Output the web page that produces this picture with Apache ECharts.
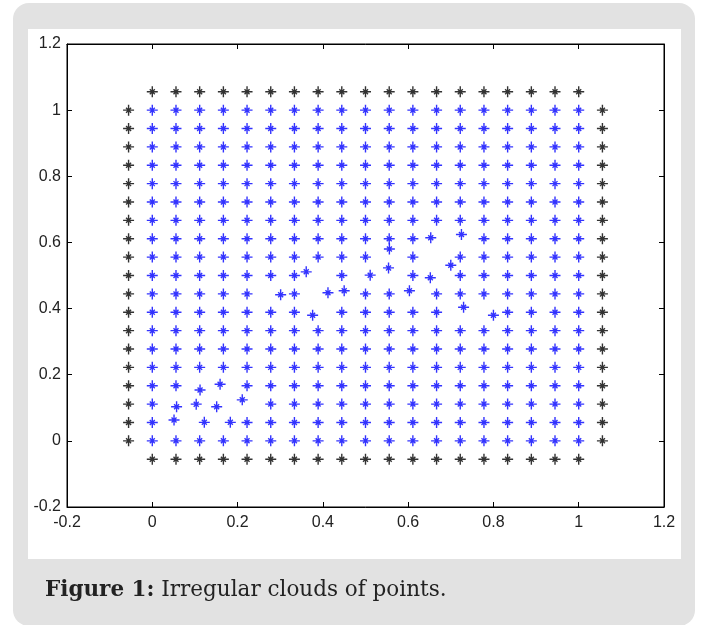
<!DOCTYPE html>
<html>
<head>
<meta charset="utf-8">
<script src="https://cdn.jsdelivr.net/npm/echarts@6/dist/echarts.min.js"></script>
<style>
html,body{margin:0;padding:0;background:#ffffff;}
#chart{width:701px;height:625px;}
</style>
</head>
<body>
<div id="chart"></div>
<script>
// ---- data ----
const gridValues = [0, 0.0556, 0.1111, 0.1667, 0.2222, 0.2778, 0.3333, 0.3889, 0.4444, 0.5,
  0.5556, 0.6111, 0.6667, 0.7222, 0.7778, 0.8333, 0.8889, 0.9444, 1];
const boundaryLow = -0.0556;
const boundaryHigh = 1.0556;
// displaced interior points: [column index, row index, x, y]
const movedPoints = [
  [7, 9, 0.361, 0.511], [9, 9, 0.511, 0.501], [10, 9, 0.554, 0.523], [10, 10, 0.556, 0.580],
  [5, 8, 0.301, 0.442], [7, 8, 0.412, 0.448], [8, 8, 0.450, 0.454], [7, 7, 0.376, 0.380],
  [12, 11, 0.653, 0.614], [13, 11, 0.725, 0.624], [12, 10, 0.700, 0.531], [12, 9, 0.652, 0.493],
  [11, 8, 0.603, 0.454], [13, 7, 0.730, 0.404], [14, 7, 0.800, 0.380],
  [2, 3, 0.112, 0.154], [3, 3, 0.159, 0.171],
  [1, 2, 0.057, 0.103], [2, 2, 0.103, 0.111], [3, 2, 0.151, 0.103], [4, 2, 0.211, 0.124],
  [1, 1, 0.051, 0.063], [2, 1, 0.122, 0.056], [3, 1, 0.183, 0.056]
];
const axisMin = -0.2, axisMax = 1.2, axisStep = 0.2;
const captionBold = 'Figure 1:';
const captionText = ' Irregular clouds of points.';

// ---- build point tables ----
const movedMap = {};
movedPoints.forEach(p => { movedMap[p[0] + '_' + p[1]] = [p[2], p[3]]; });
const interior = [];
for (let j = 0; j < gridValues.length; j++) {
  for (let i = 0; i < gridValues.length; i++) {
    const m = movedMap[i + '_' + j];
    interior.push(m ? m : [gridValues[i], gridValues[j]]);
  }
}
const boundary = [];
gridValues.forEach(v => {
  boundary.push([v, boundaryHigh]);
  boundary.push([v, boundaryLow]);
  boundary.push([boundaryLow, v]);
  boundary.push([boundaryHigh, v]);
});

const starPath = 'path://M0 5.5L11 5.5M5.5 0L5.5 11M3 3L8 8M3 8L8 3';
const labelFmt = v => String(Math.round(v * 10) / 10);

function axisCfg(pos, showLabel) {
  return {
    type: 'value', position: pos, min: axisMin, max: axisMax, interval: axisStep,
    axisLine: { show: true, onZero: false, lineStyle: { color: '#000', width: 1 } },
    axisTick: { show: true, inside: true, length: 5, lineStyle: { color: '#000', width: 1 } },
    axisLabel: { show: showLabel, color: '#222', fontSize: 16, fontFamily: 'Liberation Sans, Arial, sans-serif',
      margin: pos === 'bottom' ? 8 : 6, formatter: labelFmt, showMinLabel: true, showMaxLabel: true },
    splitLine: { show: false }
  };
}

const chart = echarts.init(document.getElementById('chart'), null, { renderer: 'canvas' });
chart.setOption({
  animation: false,
  backgroundColor: '#ffffff',
  graphic: [
    { type: 'rect', z: -20, silent: true, shape: { x: 13, y: 3, width: 682, height: 623, r: 16 }, style: { fill: '#e2e2e2' } },
    { type: 'rect', z: -19, silent: true, shape: { x: 28, y: 29, width: 653, height: 530 }, style: { fill: '#ffffff' } },
    { type: 'text', z: 10, silent: true, x: 45, y: 590,
      style: {
        text: '{b|' + captionBold + '}' + captionText,
        fontFamily: 'DejaVu Serif', fontSize: 21.5, fill: '#222', verticalAlign: 'middle',
        rich: { b: { fontFamily: 'DejaVu Serif', fontSize: 21.5, fontWeight: 'bold', fill: '#222' } }
      } }
  ],
  grid: { left: 67, top: 44, right: 37, bottom: 118, show: true, backgroundColor: '#ffffff', borderColor: '#000', borderWidth: 1, outerBoundsMode: 'none' },
  xAxis: [axisCfg('bottom', true), axisCfg('top', false)],
  yAxis: [axisCfg('left', true), axisCfg('right', false)],
  series: [
    { type: 'scatter', data: boundary, symbol: starPath, symbolSize: 11, silent: true,
      itemStyle: { color: '#000000', borderColor: '#000000', borderWidth: 1.4 } },
    { type: 'scatter', data: interior, symbol: starPath, symbolSize: 11, silent: true,
      itemStyle: { color: '#0000ff', borderColor: '#0000ff', borderWidth: 1.4 } }
  ]
});
</script>
</body>
</html>
